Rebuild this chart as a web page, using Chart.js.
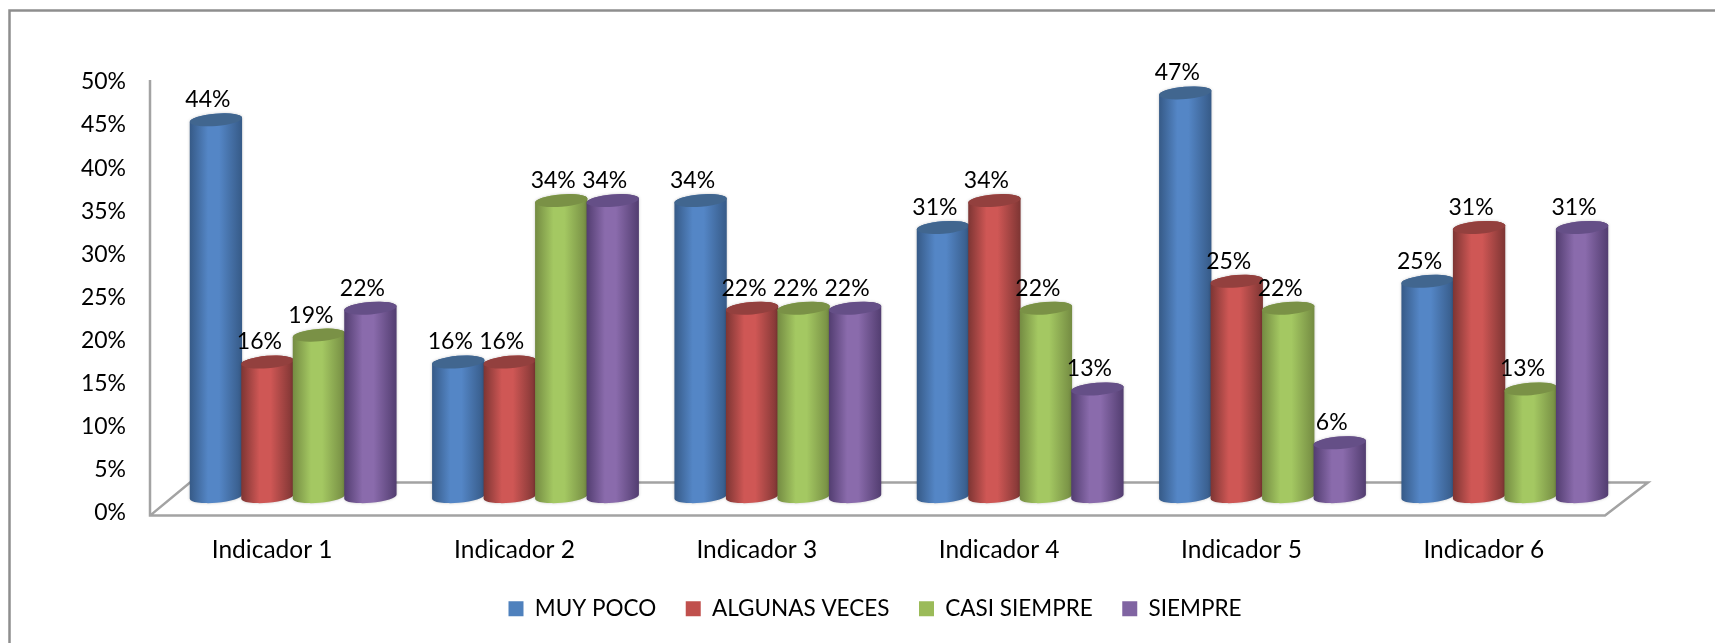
<!DOCTYPE html>
<html>
<head>
<meta charset="utf-8">
<title>Indicadores</title>
<script src="https://cdn.jsdelivr.net/npm/chart.js@4"></script>
<style>
  html, body { margin: 0; padding: 0; background: #fff; }
  #wrap { width: 1715px; height: 643px; position: relative; }
</style>
</head>
<body>
<div id="wrap"><canvas id="chart"></canvas></div>
<script>
const categories = ["Indicador 1", "Indicador 2", "Indicador 3", "Indicador 4", "Indicador 5", "Indicador 6"];
const seriesNames = ["MUY POCO", "ALGUNAS VECES", "CASI SIEMPRE", "SIEMPRE"];
const muyPoco = [43.75, 15.625, 34.375, 31.25, 46.875, 25];
const algunasVeces = [15.625, 15.625, 21.875, 34.375, 25, 31.25];
const casiSiempre = [18.75, 34.375, 21.875, 21.875, 21.875, 12.5];
const siempre = [21.875, 34.375, 21.875, 12.5, 6.25, 31.25];
const seriesValues = [muyPoco, algunasVeces, casiSiempre, siempre];

const legendColors = ["#4f81bd", "#c0504d", "#9bbb59", "#8064a2"];
// edge, light centre, top cap of each cylinder
const shades = [
  { edge: "#365a87", mid: "#5486c6", cap: "#41668f" },
  { edge: "#7d3533", mid: "#cf5755", cap: "#93403e" },
  { edge: "#748b42", mid: "#a4c862", cap: "#7a9146" },
  { edge: "#523d70", mid: "#8a6bac", cap: "#654f87" }
];

const fontName = "Lato, sans-serif";
const fontSize = 23;
const legendGap = 29.5;
const capTilt = -0.08;
const capHeight = 6.2;

// bar element drawn as a tilted cylinder
class CylinderBar extends Chart.BarElement {
  static id = "cylinderBar";
  draw(ctx) {
    const { x, y, base, width } = this.getProps(["x", "y", "base", "width"]);
    const shade = shades[this.$datasetIndex];
    const rx = width / 2 + 0.5;

    const grad = ctx.createLinearGradient(x - rx, 0, x + rx, 0);
    grad.addColorStop(0, shade.edge);
    grad.addColorStop(0.35, shade.mid);
    grad.addColorStop(0.56, shade.mid);
    grad.addColorStop(1, shade.edge);

    ctx.save();
    ctx.shadowColor = "rgba(0,0,0,0.22)";
    ctx.shadowBlur = 3;
    ctx.beginPath();
    ctx.ellipse(x, base, rx, capHeight, capTilt, Math.PI, 0, true);
    ctx.ellipse(x, y, rx, capHeight, capTilt, 0, Math.PI, true);
    ctx.closePath();
    ctx.fillStyle = grad;
    ctx.fill();
    ctx.restore();

    ctx.beginPath();
    ctx.ellipse(x, y, rx, capHeight, capTilt, 0, Math.PI * 2);
    ctx.fillStyle = shade.cap;
    ctx.fill();
  }
}

class CylinderController extends Chart.BarController {
  static id = "cylinder";
  static defaults = { ...Chart.BarController.defaults, dataElementType: "cylinderBar" };
  updateElements(bars, start, count, mode) {
    super.updateElements(bars, start, count, mode);
    bars.forEach(b => { b.$datasetIndex = this.index; });
  }
}

Chart.register(CylinderBar, CylinderController);

// frame, walls and floor, and the left to right paint order of the bars
const scene = {
  id: "scene",
  afterLayout(chart) {
    // legend sits off centre in the original
    const legend = chart.legend;
    const h = legend.bottom - legend.top;
    legend.left += 62;
    legend.right += 62;
    legend.top = 609 - legendGap - 11.5;
    legend.bottom = legend.top + h;
  },
  beforeDraw(chart) {
    const ctx = chart.ctx;
    ctx.save();
    ctx.strokeStyle = "#8e8e8e";
    ctx.lineWidth = 2.5;
    ctx.beginPath();
    ctx.moveTo(9.5, chart.height);
    ctx.lineTo(9.5, 10.5);
    ctx.lineTo(chart.width, 10.5);
    ctx.stroke();
    ctx.restore();
  },
  beforeDatasetsDraw(chart) {
    const ctx = chart.ctx;
    const { left, right, top, bottom } = chart.chartArea;
    ctx.save();
    ctx.strokeStyle = "#a3a3a3";
    ctx.lineWidth = 2.5;
    ctx.lineJoin = "miter";
    ctx.beginPath();
    ctx.moveTo(left - 22, top + 14);
    ctx.lineTo(left - 22, bottom + 19);
    ctx.lineTo(right - 21, bottom + 19);
    ctx.lineTo(right + 22, bottom - 14);
    ctx.lineTo(left + 18, bottom - 14);
    ctx.lineTo(left - 22, bottom + 19);
    ctx.stroke();
    ctx.restore();
    chart.getSortedVisibleDatasetMetas().forEach(meta => meta.controller.draw());
    return false;
  },
  afterDraw(chart) {
    const ctx = chart.ctx;
    ctx.save();
    ctx.font = fontSize + "px " + fontName;
    ctx.fillStyle = "#000";
    ctx.textAlign = "center";
    ctx.textBaseline = "middle";
    chart.getSortedVisibleDatasetMetas().forEach(meta => {
      meta.data.forEach((bar, i) => {
        const v = chart.data.datasets[meta.index].data[i];
        ctx.fillText(Math.round(v) + "%", bar.x - 8, bar.y - 20);
      });
    });
    ctx.restore();
  }
};

new Chart(document.getElementById("chart"), {
  type: "cylinder",
  data: {
    labels: categories,
    datasets: seriesNames.map((name, i) => ({
      label: name,
      data: seriesValues[i],
      backgroundColor: legendColors[i],
      categoryPercentage: 0.85,
      barPercentage: 1
    }))
  },
  plugins: [scene],
  options: {
    responsive: true,
    maintainAspectRatio: false,
    animation: false,
    layout: {
      autoPadding: false,
      padding: { left: 0, right: 89, top: 66, bottom: -23 }
    },
    font: { family: fontName },
    plugins: {
      title: { display: false },
      tooltip: { enabled: false },
      legend: {
        position: "bottom",
        labels: {
          boxWidth: 15,
          boxHeight: 15,
          padding: legendGap,
          color: "#000",
          font: { family: fontName, size: 22.5 }
        }
      }
    },
    scales: {
      x: {
        grid: { display: false, drawTicks: false },
        border: { display: false },
        ticks: {
          color: "#000",
          padding: 39,
          labelOffset: -21,
          maxRotation: 0,
          autoSkip: false,
          font: { family: fontName, size: 24.5 }
        }
      },
      y: {
        min: 0,
        max: 50,
        afterFit: s => { s.width = 172; },
        grid: { display: false, drawTicks: false },
        border: { display: false },
        ticks: {
          stepSize: 5,
          color: "#000",
          padding: 46,
          labelOffset: 16,
          autoSkip: false,
          font: { family: fontName, size: fontSize },
          callback: v => v + "%"
        }
      }
    }
  }
});
</script>
</body>
</html>
